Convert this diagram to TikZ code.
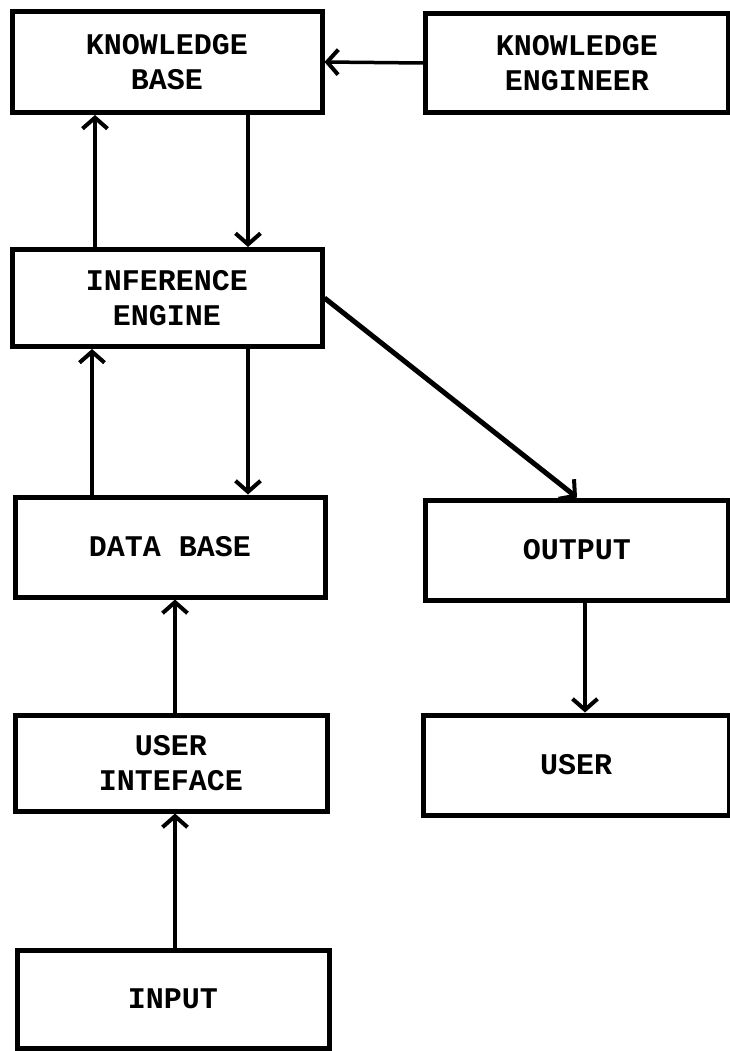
\documentclass[tikz,border=0pt]{standalone}
\usepackage{fontspec}
\setmonofont{Liberation Mono}
\usetikzlibrary{arrows.meta}
\begin{document}
\begin{tikzpicture}[x=1pt,y=-1pt,
  box/.style={draw, line width=5pt, rectangle, align=center,
    font=\ttfamily\bfseries\fontsize{30}{35}\selectfont},
  arr/.style={line width=3.5pt, -{Straight Barb[length=11pt,width=25pt,line width=4pt]}},
  thickarr/.style={line width=5pt, -{Straight Barb[length=11pt,width=25pt,line width=4pt]}}]
\useasboundingbox (0,0) rectangle (730,1051);
\fill[white] (0,0) rectangle (730,1051);
\node[box, minimum width=310pt, minimum height=101pt] (kb) at (167,62) {KNOWLEDGE\\BASE};
\node[box, minimum width=303pt, minimum height=99pt] (ke) at (577,63) {KNOWLEDGE\\ENGINEER};
\node[box, minimum width=310pt, minimum height=97pt] (ie) at (167,298) {INFERENCE\\ENGINE};
\node[box, minimum width=310pt, minimum height=100pt] (db) at (170,547) {DATA BASE};
\node[box, minimum width=303pt, minimum height=100pt] (out) at (577,550) {OUTPUT};
\node[box, minimum width=306pt, minimum height=100pt] (user) at (576,765) {USER};
\node[box, minimum width=312pt, minimum height=96pt] (ui) at (171,763) {USER\\INTEFACE};
\node[box, minimum width=312pt, minimum height=98pt] (in) at (173,999) {INPUT};
\coordinate (c95) at (95,0);
\coordinate (c248) at (248,0);
\coordinate (c92) at (92,0);
\coordinate (c175) at (175,0);
\coordinate (c585) at (585,0);
\draw[arr] (ke.west) -- (kb.east);
\draw[arr] (ie.north -| c95) -- (kb.south -| c95);
\draw[arr] (kb.south -| c248) -- (ie.north -| c248);
\draw[arr] (db.north -| c92) -- (ie.south -| c92);
\draw[arr] (ie.south -| c248) -- (db.north -| c248);
\draw[thickarr] (ie.east) -- (out.north);
\draw[arr] (out.south -| c585) -- (user.north -| c585);
\draw[arr] (ui.north -| c175) -- (db.south -| c175);
\draw[arr] (in.north -| c175) -- (ui.south -| c175);
\end{tikzpicture}
\end{document}
